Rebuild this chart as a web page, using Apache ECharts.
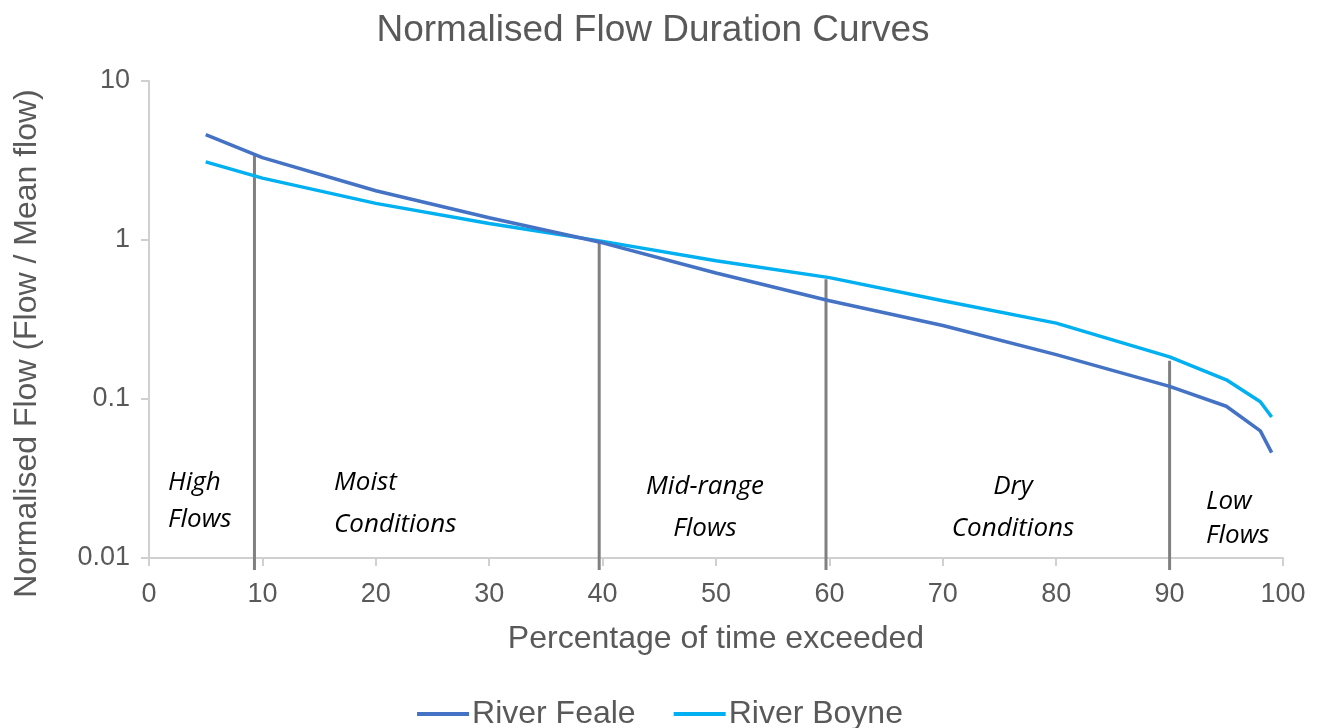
<!DOCTYPE html>
<html>
<head>
<meta charset="utf-8">
<script src="https://cdn.jsdelivr.net/npm/echarts@6/dist/echarts.min.js"></script>
<style>
html,body{margin:0;padding:0;background:#fff;}
#chart{width:1320px;height:728px;}
</style>
</head>
<body>
<div id="chart"></div>
<script>
// ---- data ----
const xValues = [5, 10, 20, 30, 40, 50, 60, 70, 80, 90, 95, 98, 99];
const fealeValues = [4.6, 3.3, 2.04, 1.38, 0.96, 0.62, 0.415, 0.29, 0.19, 0.12, 0.09, 0.063, 0.046];
const boyneValues = [3.1, 2.45, 1.7, 1.27, 0.98, 0.74, 0.58, 0.415, 0.30, 0.184, 0.132, 0.096, 0.077];
const seriesNames = ['River Feale', 'River Boyne'];
// boundaries between flow regimes: x position, top value (on curve), bottom value (just below axis)
const boundaryX = [9.3, 39.7, 59.7, 90];
const boundaryTop = [3.4, 0.99, 0.567, 0.174];
const boundaryBottom = 0.0084;
const regimeLabels = [['High', 'Flows'], ['Moist', 'Conditions'], ['Mid-range', 'Flows'], ['Dry', 'Conditions'], ['Low', 'Flows']];
const yTicks = [0.01, 0.1, 1, 10];

const chart = echarts.init(document.getElementById('chart'));

const boundarySeries = boundaryX.map((x, i) => ({
  type: 'line',
  name: 'boundary' + i,
  data: [[x, boundaryTop[i]], [x, boundaryBottom]],
  symbol: 'none',
  clip: false,
  silent: true,
  z: 1,
  lineStyle: { color: '#808080', width: 3 }
}));

const annotFont = { fontFamily: 'Open Sans', fontStyle: 'italic', fontSize: 26, fill: '#000' };
const annotPos = [
  { x: 168, align: 'left', lines: [483, 520] },
  { x: 334, align: 'left', lines: [483, 525] },
  { x: 705, align: 'center', lines: [487, 529] },
  { x: 1013, align: 'center', lines: [487, 529] },
  { x: 1206, align: 'left', lines: [502, 536] }
];
const graphics = [];
regimeLabels.forEach((lbl, i) => {
  lbl.forEach((t, j) => {
    graphics.push({
      type: 'text',
      x: annotPos[i].x,
      y: annotPos[i].lines[j],
      style: Object.assign({ text: t, align: annotPos[i].align, verticalAlign: 'middle' }, annotFont),
      z: 10
    });
  });
});

const option = {
  backgroundColor: '#fff',
  animation: false,
  title: {
    text: 'Normalised Flow Duration Curves',
    left: 648,
    textAlign: 'center',
    top: 7,
    textStyle: { fontFamily: 'Liberation Sans', fontSize: 37, fontWeight: 'normal', color: '#595959' }
  },
  legend: {
    data: seriesNames,
    icon: 'rect',
    bottom: -7,
    left: 'center',
    itemWidth: 52,
    itemHeight: 4,
    itemGap: 38,
    textStyle: { fontFamily: 'Liberation Sans', fontSize: 32, color: '#595959', padding: [0, 0, 0, -2] }
  },
  grid: { left: 149, right: 37, top: 81, bottom: 170, containLabel: false },
  xAxis: {
    type: 'value',
    min: 0, max: 100, interval: 10,
    name: 'Percentage of time exceeded',
    nameLocation: 'middle',
    nameGap: 65,
    nameTextStyle: { fontFamily: 'Liberation Sans', fontSize: 32, color: '#595959' },
    axisLine: { show: true, lineStyle: { color: '#d0d0d0', width: 2 } },
    axisTick: { show: true, length: 8, inside: false, lineStyle: { color: '#d0d0d0', width: 2 } },
    axisLabel: { fontFamily: 'Liberation Sans', fontSize: 27, color: '#595959', margin: 23 },
    splitLine: { show: false }
  },
  yAxis: {
    type: 'log',
    logBase: 10,
    min: yTicks[0], max: yTicks[yTicks.length - 1],
    name: 'Normalised Flow (Flow / Mean flow)',
    nameLocation: 'middle',
    nameGap: 106,
    nameTextStyle: { fontFamily: 'Liberation Sans', fontSize: 32, color: '#595959', padding: [0, 48, 0, 0] },
    axisLine: { show: true, lineStyle: { color: '#d0d0d0', width: 2 } },
    axisTick: { show: true, length: 8, lineStyle: { color: '#d0d0d0', width: 2 } },
    axisLabel: { fontFamily: 'Liberation Sans', fontSize: 27, color: '#595959', margin: 19,
      formatter: v => String(+v.toPrecision(3)) },
    splitLine: { show: false }
  },
  series: boundarySeries.concat([
    {
      type: 'line', name: seriesNames[0],
      data: xValues.map((x, i) => [x, fealeValues[i]]),
      symbol: 'none', z: 3,
      color: '#4472C4',
      lineStyle: { color: '#4472C4', width: 3.5 }
    },
    {
      type: 'line', name: seriesNames[1],
      data: xValues.map((x, i) => [x, boyneValues[i]]),
      symbol: 'none', z: 2,
      color: '#00B0F0',
      lineStyle: { color: '#00B0F0', width: 3.5 }
    }
  ]),
  graphic: graphics
};
chart.setOption(option);
</script>
</body>
</html>
